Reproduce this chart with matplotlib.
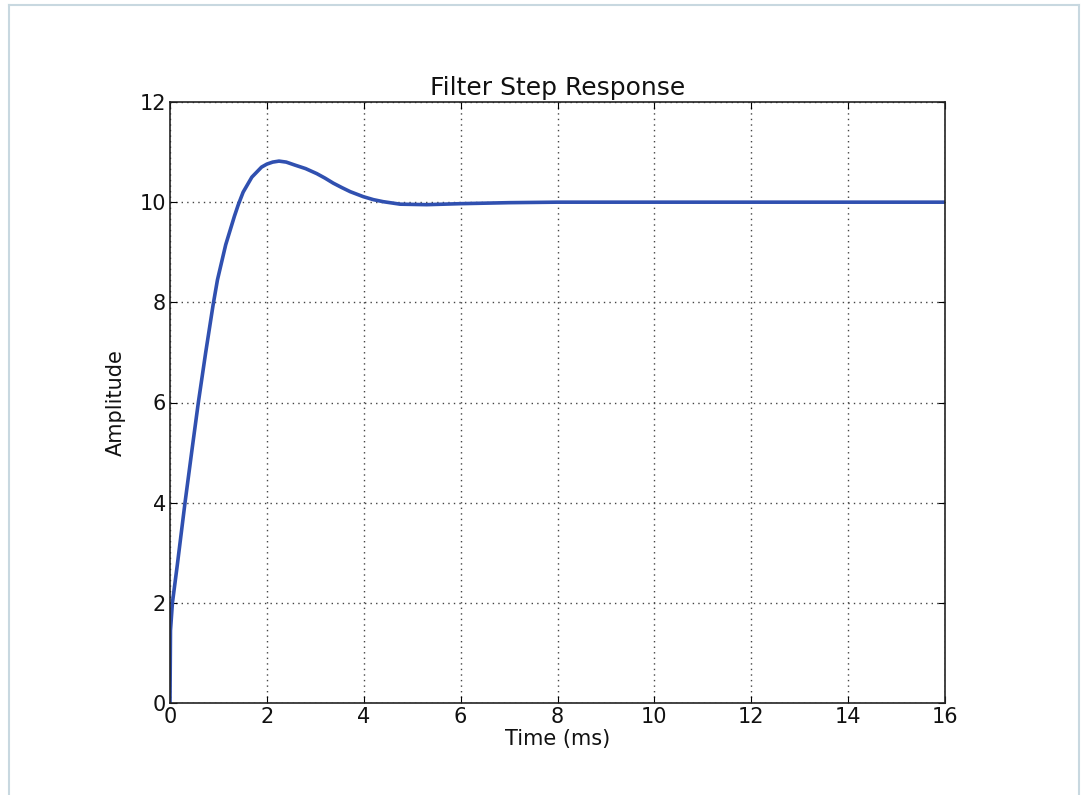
import matplotlib
matplotlib.use("Agg")
import matplotlib.pyplot as plt
from matplotlib.lines import Line2D

# Data
time_ms = [0.0, 0.01, 0.05, 0.15, 0.31, 0.46, 0.585, 0.737, 0.89, 0.98, 1.15, 1.33,
           1.41, 1.51, 1.69, 1.89, 2.0, 2.12, 2.25, 2.4, 2.58, 2.8, 3.03, 3.2, 3.37,
           3.55, 3.72, 3.99, 4.2, 4.4, 4.75, 5.3, 6.0, 7.0, 8.0, 10.0, 12.0, 14.0, 16.0]
amplitude = [0.0, 1.45, 2.0, 2.75, 4.0, 5.1, 6.0, 7.0, 7.95, 8.45, 9.15, 9.72,
             9.95, 10.2, 10.5, 10.7, 10.76, 10.80, 10.82, 10.80, 10.74, 10.67, 10.57, 10.48, 10.38,
             10.29, 10.21, 10.11, 10.05, 10.01, 9.96, 9.95, 9.97, 9.99, 10.0, 10.0, 10.0, 10.0, 10.0]
xticks = [0, 2, 4, 6, 8, 10, 12, 14, 16]
yticks = [0, 2, 4, 6, 8, 10, 12]

plt.rcParams['font.family'] = ['DejaVu Sans']
fig = plt.figure(figsize=(10.84, 7.95), dpi=100)
ax = fig.add_axes([170/1084, 1-703/795, (945-170)/1084, (703-102)/795])

ax.plot(time_ms, amplitude, color='#3050b0', linewidth=2.6,
        solid_joinstyle='round', solid_capstyle='round')
ax.set_xlim(0, 16)
ax.set_ylim(0, 12)
ax.set_xticks(xticks)
ax.set_yticks(yticks)
ax.grid(True, color='#444444', linestyle=(0, (1, 3)), linewidth=1.0)
ax.tick_params(direction='in', top=True, right=True, length=5, labelsize=15,
               pad=3, labelcolor='#111111')
for s in ax.spines.values():
    s.set_linewidth(1.2)
    s.set_color('#222222')
ax.set_title('Filter Step Response', fontsize=18, pad=5, color='#111111')
ax.set_xlabel('Time (ms)', fontsize=15, labelpad=1, color='#111111')
ax.set_ylabel('Amplitude', fontsize=15, labelpad=10, color='#111111')

# light frame around figure (left, top, right)
W, H = 1084, 795
col = '#c8d8e0'
fig.add_artist(Line2D([8.5/W, 8.5/W], [0, 1-5/H], color=col, lw=1.5, transform=fig.transFigure))
fig.add_artist(Line2D([8.5/W, 1079/W], [1-5/H, 1-5/H], color=col, lw=1.5, transform=fig.transFigure))
fig.add_artist(Line2D([1079/W, 1079/W], [0, 1-5/H], color=col, lw=1.5, transform=fig.transFigure))

fig.savefig('out.png', dpi=100)
